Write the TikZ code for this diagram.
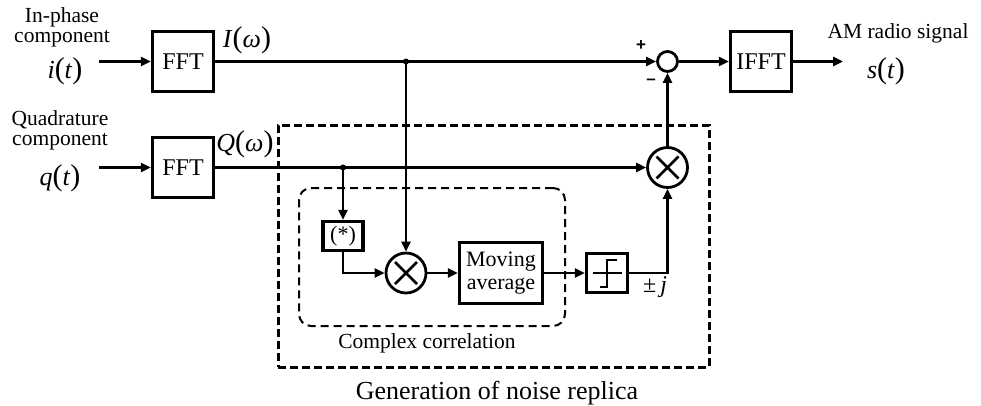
\documentclass[tikz,border=0pt]{standalone}
\usepackage{fontspec}
\setmainfont{Liberation Serif}
\setsansfont{Liberation Sans}
\usetikzlibrary{arrows.meta, positioning}

\newcommand{\sigarg}[2]{\textit{#1}{\fontsize{30}{30}\selectfont(}\textit{#2}{\fontsize{30}{30}\selectfont)}}

\begin{document}
\begin{tikzpicture}[
  x=1pt, y=-1pt,
  font=\fontsize{21.5}{20}\selectfont,
  blk/.style={draw, line width=3.2pt, minimum width=61pt, minimum height=60pt, inner sep=2pt,
              align=center, font=\fontsize{24}{24}\selectfont},
  mix/.style={draw, circle, line width=2.8pt, minimum size=40pt, inner sep=0pt,
              path picture={\draw[line width=2.6pt] (path picture bounding box.center)
                ++(-11,-11) -- ++(22,22) ++(0,-22) -- ++(-22,22);}},
  sumnode/.style={draw, circle, line width=2.8pt, minimum size=20pt, inner sep=0pt},
  lbl/.style={align=center, inner sep=0pt},
  sig/.style={inner sep=0pt, font=\fontsize{26}{26}\selectfont},
  sgnmark/.style={inner sep=0pt, font=\fontsize{17}{17}\selectfont\sffamily\bfseries},
  outer/.style={draw, line width=3pt, dash pattern=on 8pt off 4pt},
  inner/.style={draw, line width=2pt, dash pattern=on 8pt off 5pt, rounded corners=12pt},
  flow/.style={-{Triangle[length=10pt, width=9pt]}, line width=2.8pt}
]
\useasboundingbox (0,0) rectangle (981,405);

% group frames
\node[outer, minimum width=431pt, minimum height=242pt] (noise) at (493.5,246) {};
\node[inner, minimum width=266pt, minimum height=138pt] (corr) at (432,257) {};
\node[lbl, anchor=base, font=\fontsize{26}{26}\selectfont] (noisecap) at (497,399) {Generation of noise replica};
\node[lbl, anchor=base] (corrcap) at (427,348) {Complex correlation};

% blocks
\node[blk] (fftI) at (183,61.5) {FFT};
\node[blk] (fftQ) at (183,167.5) {FFT};
\node[blk] (ifft) at (761,61.5) {IFFT};
\node[sumnode] (sum) at (667.5,61.5) {};
\node[mix] (mixA) at (667.5,167.5) {};
\node[blk, minimum width=40pt, minimum height=29pt, font=\fontsize{22}{22}\selectfont] (conj) at (343,236) {(*)};
\node[mix] (mixB) at (406,273) {};
\node[blk, minimum width=83pt, minimum height=61pt, font=\fontsize{22}{23}\selectfont] (mavg) at (501,273) {Moving\\average};
\node[blk, minimum width=41pt, minimum height=39pt] (sgn) at (607,273) {};
\draw[line width=2pt] ([xshift=-14pt]sgn.center) -- ([xshift=15pt]sgn.center);
\draw[line width=2.5pt] ([shift={(-7,14)}]sgn.center) -| ([shift={(0,-13)}]sgn.center)
  -- ([shift={(10,-13)}]sgn.center);

% texts
\node[lbl] (iname) at (62,27) {In-phase\\component};
\node[sig] (isig) at (65,71) {\sigarg{i}{t}};
\node[lbl] (qname) at (60,130) {Quadrature\\component};
\node[sig] (qsig) at (60,178) {\sigarg{q}{t}};
\node[sig] (Iw) at (247,40) {\sigarg{I}{ω}};
\node[sig] (Qw) at (245,144) {\sigarg{Q}{ω}};
\node[lbl] (outname) at (898,33) {AM radio signal};
\node[sig] (ssig) at (886,71) {\sigarg{s}{t}};
\node[sgnmark] (plus) at (641,46) {+};
\node[sgnmark] (minus) at (651,82) {–};
\node[sig, font=\fontsize{24}{24}\selectfont] (pmj) at (655,287) {±\,\textit{j}};

% connectors
\coordinate (iin) at (99,61.5);
\coordinate (qin) at (99,167.5);
\coordinate (sout) at (843,61.5);
\coordinate (tapI) at (406,61.5);
\coordinate (tapQ) at (343,167.5);
\draw[flow] (iin) -- (fftI);
\draw[flow] (qin) -- (fftQ);
\draw[flow] (fftI) -- (sum);
\draw[flow] (fftQ) -- (mixA);
\draw[flow] (sum) -- (ifft);
\draw[flow] (ifft) -- (sout);
\draw[flow] (mixA) -- (sum);
\draw[flow] (tapI) -- (mixB);
\draw[flow] (tapQ) -- (conj);
\draw[flow] (conj.south) |- (mixB.west);
\draw[flow] (mixB) -- (mavg);
\draw[flow] (mavg) -- (sgn);
\draw[flow] (sgn.east) -| (mixA.south);
\fill (tapI) circle (3);
\fill (tapQ) circle (3);
\end{tikzpicture}
\end{document}
